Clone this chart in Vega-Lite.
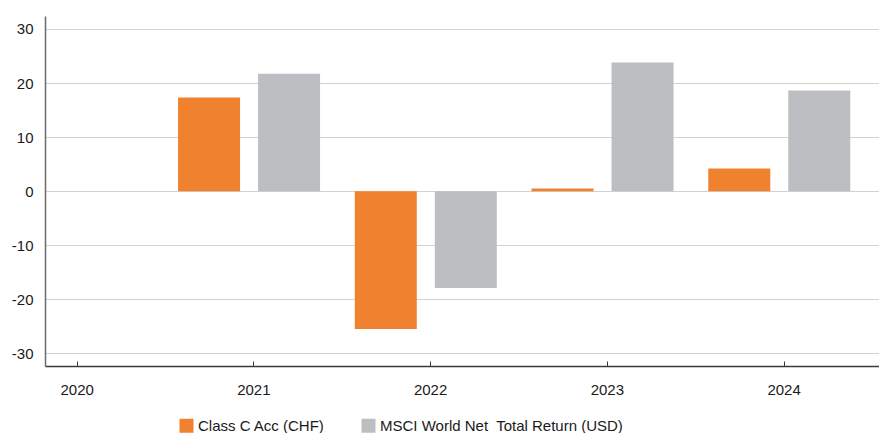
{
  "$schema": "https://vega.github.io/schema/vega-lite/v6.json",
  "width": 834,
  "height": 350,
  "autosize": {"type": "none"},
  "padding": {"left": 45, "top": 16, "right": 0, "bottom": 67},
  "config": {
    "view": {"stroke": null},
    "font": "Liberation Sans"
  },
  "data": {
    "values": [
      {"year": 2021, "series": "Class C Acc (CHF)", "value": 17.3},
      {"year": 2021, "series": "MSCI World Net\u00a0 Total Return (USD)", "value": 21.7},
      {"year": 2022, "series": "Class C Acc (CHF)", "value": -25.5},
      {"year": 2022, "series": "MSCI World Net\u00a0 Total Return (USD)", "value": -17.9},
      {"year": 2023, "series": "Class C Acc (CHF)", "value": 0.5},
      {"year": 2023, "series": "MSCI World Net\u00a0 Total Return (USD)", "value": 23.8},
      {"year": 2024, "series": "Class C Acc (CHF)", "value": 4.2},
      {"year": 2024, "series": "MSCI World Net\u00a0 Total Return (USD)", "value": 18.6}
    ]
  },
  "encoding": {
    "x": {
      "field": "year",
      "type": "quantitative",
      "scale": {"domain": [2019.821, 2024.54], "nice": false, "zero": false, "padding": 0},
      "axis": {
        "title": null,
        "values": [2020, 2021, 2022, 2023, 2024],
        "format": "d",
        "grid": false,
        "domainColor": "#3a3a3a",
        "domainWidth": 1.5,
        "tickColor": "#3a3a3a",
        "tickSize": -5,
        "labelPadding": 21,
        "labelFont": "Liberation Sans",
        "labelFontSize": 15,
        "labelColor": "#1a1a1a"
      }
    },
    "y": {
      "field": "value",
      "type": "quantitative",
      "scale": {"domain": [-32.35, 32.4], "nice": false},
      "axis": {
        "title": null,
        "values": [-30, -20, -10, 0, 10, 20, 30],
        "labelExpr": "toString(datum.value)",
        "grid": true,
        "gridColor": "#d2d2d2",
        "gridWidth": 1.2,
        "domainColor": "#6a6a6a",
        "domainWidth": 1.5,
        "ticks": false,
        "labelPadding": 12,
        "labelFont": "Liberation Sans",
        "labelFontSize": 15,
        "labelColor": "#1a1a1a"
      }
    },
    "color": {
      "field": "series",
      "type": "nominal",
      "scale": {
        "domain": ["Class C Acc (CHF)", "MSCI World Net\u00a0 Total Return (USD)"],
        "range": ["#F0812F", "#BDBEC1"]
      },
      "legend": {
        "title": null,
        "orient": "none",
        "legendX": 134,
        "legendY": 402,
        "direction": "horizontal",
        "symbolType": "square",
        "symbolSize": 196,
        "symbolStrokeWidth": 0,
        "labelFontSize": 15,
        "labelFont": "Liberation Sans",
        "labelColor": "#1a1a1a",
        "labelLimit": 500,
        "columnPadding": 36,
        "labelOffset": 4
      }
    }
  },
  "layer": [
    {
      "transform": [{"filter": "datum.series === 'Class C Acc (CHF)'"}],
      "mark": {"type": "bar", "width": 62, "xOffset": -44.3}
    },
    {
      "transform": [{"filter": "datum.series !== 'Class C Acc (CHF)'"}],
      "mark": {"type": "bar", "width": 62, "xOffset": 35.7}
    }
  ]
}
